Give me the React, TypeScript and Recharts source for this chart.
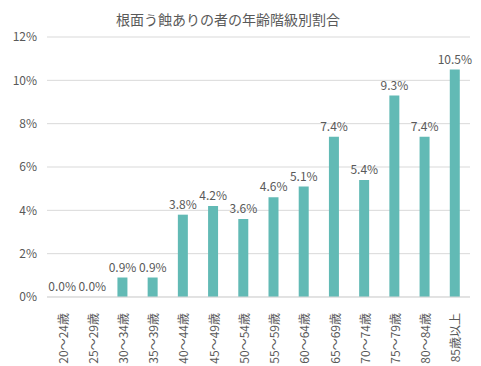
import { ComposedChart, Bar, Line, XAxis, YAxis, CartesianGrid, LabelList } from 'recharts';

const categories = [
  '20～24歳', '25～29歳', '30～34歳', '35～39歳', '40～44歳', '45～49歳', '50～54歳',
  '55～59歳', '60～64歳', '65～69歳', '70～74歳', '75～79歳', '80～84歳', '85歳以上',
];
const rates = [0.0, 0.0, 0.9, 0.9, 3.8, 4.2, 3.6, 4.6, 5.1, 7.4, 5.4, 9.3, 7.4, 10.5];
const yTicks = [0, 2, 4, 6, 8, 10, 12];

const title = '根面う蝕ありの者の年齢階級別割合';
const FONT = '"Noto Sans CJK JP", "Open Sans", sans-serif';
const GREY = '#595959';

const data = categories.map((name, i) => ({ name, value: rates[i] }));

// rotated category label, reading bottom-to-top
const renderTick = (props: any) => {
  const { x, y, payload } = props;
  return (
    <text
      x={0}
      y={0}
      transform={`translate(${x}, ${y + 8}) rotate(-90)`}
      textAnchor="end"
      dominantBaseline="central"
      fill={GREY}
      fontSize={12}
      fontFamily={FONT}
    >
      {payload.value}
    </text>
  );
};

export default function App() {
  return (
    <div style={{ position: 'absolute', left: 0, top: 0, width: 481, height: 366, background: '#fff' }}>
      <div
        style={{
          position: 'absolute',
          left: 0,
          width: 456,
          top: 9,
          textAlign: 'center',
          fontFamily: FONT,
          fontSize: 14,
          color: GREY,
          lineHeight: '20px',
        }}
      >
        {title}
      </div>
      <ComposedChart
        width={481}
        height={366}
        data={data}
        margin={{ top: 37, right: 11, left: 0, bottom: 0 }}
      >
        <CartesianGrid vertical={false} stroke="#d9d9d9" />
        <XAxis
          dataKey="name"
          interval={0}
          height={69}
          axisLine={{ stroke: '#d9d9d9' }}
          tickLine={false}
          tick={renderTick}
        />
        <YAxis
          width={47}
          domain={[0, 12]}
          ticks={yTicks}
          axisLine={false}
          tickLine={false}
          tickFormatter={(v: number) => `${v}%`}
          tick={{ fill: GREY, fontSize: 12, fontFamily: FONT }}
          dx={-2}
        />
        <Bar dataKey="value" fill="#62bab5" barSize={10} isAnimationActive={false} />
        {/* invisible line only to carry the value labels (zero bars get none otherwise) */}
        <Line
          dataKey="value"
          stroke="none"
          dot={false}
          activeDot={false}
          legendType="none"
          isAnimationActive={false}
        >
          <LabelList
            dataKey="value"
            position="top"
            offset={6}
            formatter={(v: any) => `${Number(v).toFixed(1)}%`}
            style={{ fill: GREY, fontSize: 12, fontFamily: FONT }}
          />
        </Line>
      </ComposedChart>
    </div>
  );
}
